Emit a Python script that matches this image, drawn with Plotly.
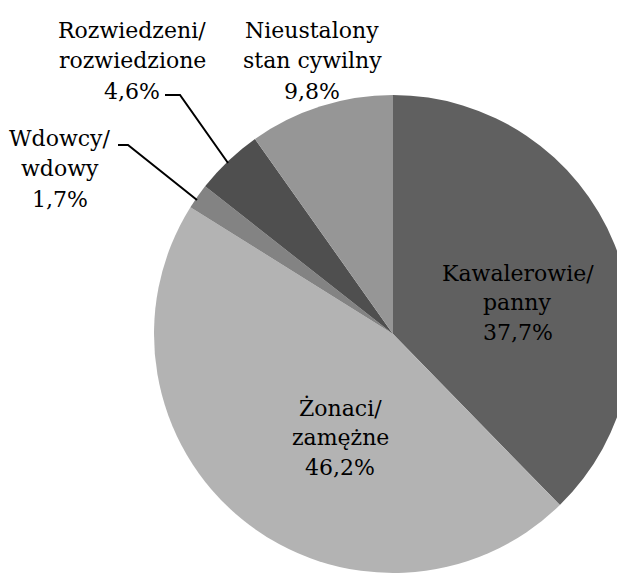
import plotly.graph_objects as go

categories = ["Kawalerowie/ panny", "Żonaci/ zamężne", "Wdowcy/ wdowy",
              "Rozwiedzeni/ rozwiedzione", "Nieustalony stan cywilny"]
label_lines = [["Kawalerowie/", "panny"], ["Żonaci/", "zamężne"], ["Wdowcy/", "wdowy"],
               ["Rozwiedzeni/", "rozwiedzione"], ["Nieustalony", "stan cywilny"]]
values = [37.7, 46.2, 1.7, 4.6, 9.8]
value_labels = ["37,7%", "46,2%", "1,7%", "4,6%", "9,8%"]
colors = ["#606060", "#b3b3b3", "#838383", "#4f4f4f", "#969696"]

W, H = 625, 574
OFF = 8  # page body margin offset

def px_x(x):
    return (x - OFF) / W

def px_y(y):
    return 1 - (y - OFF) / H

CX, CY, R = 393, 334, 239
FAMILY = "DejaVu Serif"

fig = go.Figure(go.Pie(
    labels=categories,
    values=values,
    sort=False,
    direction="clockwise",
    rotation=0,
    marker=dict(colors=colors, line=dict(width=0)),
    textinfo="none",
    hoverinfo="skip",
    domain=dict(x=[px_x(CX - R), px_x(CX + R)], y=[px_y(CY + R), px_y(CY - R)]),
    showlegend=False,
))

# label block positions: x center, y of first line center, line step (layout only)
label_pos = [(518, 273, 29.5), (340, 408, 29.5), (60, 138, 30.5), (132, 30, 30.5), (312, 30, 30.5)]
font = dict(family=FAMILY, size=22, color="black")
for lines, lab, (px, py, step) in zip(label_lines, value_labels, label_pos):
    for i, t in enumerate(lines + [lab]):
        fig.add_annotation(
            x=px_x(px), y=px_y(py + i * step), xref="paper", yref="paper",
            text=t, showarrow=False,
            xanchor="center", yanchor="middle", font=font,
        )

def path(pts):
    return "M " + " L ".join(f"{px_x(x)},{px_y(y)}" for x, y in pts)

leaders = [
    [(165, 95), (180, 95), (228, 163)],
    [(118, 145), (128, 145), (197, 200)],
]
for pts in leaders:
    fig.add_shape(type="path", xref="paper", yref="paper", path=path(pts),
                  line=dict(color="black", width=2))

fig.update_layout(
    width=W, height=H,
    margin=dict(l=0, r=0, t=0, b=0),
    paper_bgcolor="white", plot_bgcolor="white",
)
fig.write_html("out.html")
